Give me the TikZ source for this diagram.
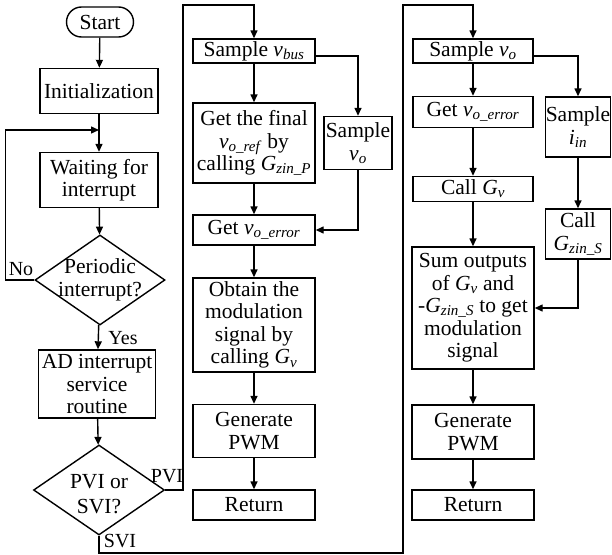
\documentclass[tikz,border=0pt]{standalone}
\usepackage{fontspec}
\setmainfont{Liberation Serif}
\usepackage{tikz}
\usetikzlibrary{positioning,calc,arrows.meta,shapes.geometric}

\newcommand{\vsym}[2]{\textit{#1}\textsubscript{\textit{#2}}}

\begin{document}
\begin{tikzpicture}[
				x=1pt, y=-1pt,
				line width=1.4pt,
				every node/.style={font=\fontsize{21.5}{22.5}\selectfont, inner sep=0pt},
				box/.style={draw, rectangle, align=center},
				terminal/.style={draw, rectangle, rounded corners=15pt, align=center},
				decision/.style={draw, diamond},
				arr/.style={-{Triangle[length=8pt,width=7pt]}},
				lbl/.style={font=\fontsize{20}{20}\selectfont}
				]
				\useasboundingbox (0,0) rectangle (612,554);
				
				% Cột trái: khởi động, chờ ngắt, phân nhánh
				\node[terminal, minimum width=67, minimum height=30] (start) at (100,22) {Start};
				\node[box, minimum width=118, minimum height=45] (init) at (99,91) {Initialization};
				\node[box, minimum width=118, minimum height=55] (wait) at (99,180) {Waiting for\\interrupt};
				\node[decision, minimum width=130, minimum height=90] (dec1) at (100,280) {};
				\node[align=center] (dec1txt) at (100,280) {Periodic\\interrupt?};
				\node[box, minimum width=117, minimum height=68] (ad) at (97,384) {AD interrupt\\service\\routine};
				\node[decision, minimum width=131, minimum height=90] (dec2) at (99,490) {};
				\node[align=center] (dec2txt) at (99,494) {PVI or\\[2pt]SVI?};
				
				\coordinate (loopin) at (99,130);
				\coordinate (pvitop) at (183,5);
				\coordinate (svibot) at (403,553);
				\coordinate (svitop) at (403,5);
				
				\draw[arr] (start) -- (init);
				\draw[arr] (init) -- (wait);
				\draw[arr] (wait) -- (dec1);
				\draw[arr] (dec1) -- (ad);
				\draw[arr] (ad) -- (dec2);
				\draw[arr] (dec1.west) -- ++(-29,0) |- (loopin);
				
				% Nhãn nhánh
				\node[lbl] (nolbl) at (21,269) {No};
				\node[lbl] (yeslbl) at (123,338) {Yes};
				\node[lbl] (pvilbl) at (167,476) {PVI};
				\node[lbl] (svilbl) at (120,541) {SVI};
				
				% Cột giữa: nhánh PVI
				\node[box, minimum width=122, minimum height=24] (svbus) at (254,51) {Sample \vsym{v}{bus}};
				\node[box, minimum width=122, minimum height=80] (getfinal) at (254,143) {Get the final\\\vsym{v}{o\_ref} by\\calling \vsym{G}{zin\_P}};
				\node[box, minimum width=68, minimum height=53] (svo) at (358,143) {Sample\\\vsym{v}{o}};
				\node[box, minimum width=122, minimum height=30] (geterr) at (254,230) {Get \vsym{v}{o\_error}};
				\node[box, minimum width=122, minimum height=94] (obtain) at (254,325) {Obtain the\\modulation\\signal by\\calling \vsym{G}{v}};
				\node[box, minimum width=122, minimum height=53] (gen1) at (254,431) {Generate\\PWM};
				\node[box, minimum width=122, minimum height=30] (ret1) at (254,505) {Return};
				
				\draw[arr] (dec2.east) -| (pvitop) -| (svbus.north);
				\draw[arr] (svbus) -- (getfinal);
				\draw[arr] ([yshift=-5pt]svbus.east) -| (svo.north);
				\draw[arr] (getfinal) -- (geterr);
				\draw[arr] (svo.south) |- (geterr.east);
				\draw[arr] (geterr) -- (obtain);
				\draw[arr] (obtain) -- (gen1);
				\draw[arr] (gen1) -- (ret1);
				
				% Cột phải: nhánh SVI
				\node[box, minimum width=120, minimum height=24] (svo2) at (473,51) {Sample \vsym{v}{o}};
				\node[box, minimum width=120, minimum height=31] (geterr2) at (473,112) {Get \vsym{v}{o\_error}};
				\node[box, minimum width=120, minimum height=25] (callgv) at (473,189) {Call \vsym{G}{v}};
				\node[box, minimum width=65, minimum height=60] (sin) at (578,127) {Sample\\\vsym{i}{in}};
				\node[box, minimum width=65, minimum height=50] (callgz) at (578,234) {Call\\\vsym{G}{zin\_S}};
				\node[box, minimum width=122, minimum height=122] (sum) at (473,308) {Sum outputs\\of \vsym{G}{v} and\\-\vsym{G}{zin\_S} to get\\modulation\\signal};
				\node[box, minimum width=122, minimum height=54] (gen2) at (473,432) {Generate\\PWM};
				\node[box, minimum width=122, minimum height=30] (ret2) at (473,505) {Return};
				
				\draw[arr] (dec2.south) |- (svibot) -- (svitop) -| (svo2.north);
				\draw[arr] (svo2) -- (geterr2);
				\draw[arr] ([yshift=-5pt]svo2.east) -| (sin.north);
				\draw[arr] (geterr2) -- (callgv);
				\draw[arr] (callgv) -- (sum);
				\draw[arr] (sin) -- (callgz);
				\draw[arr] (callgz.south) |- (sum.east);
				\draw[arr] (sum) -- (gen2);
				\draw[arr] (gen2) -- (ret2);
			\end{tikzpicture}
\end{document}
